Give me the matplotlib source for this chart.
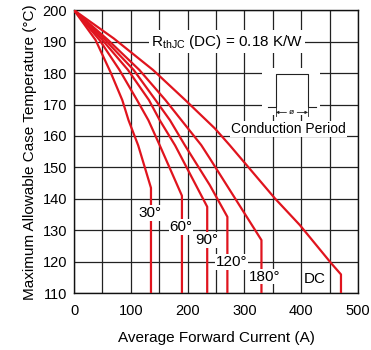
import matplotlib
matplotlib.use("Agg")
import matplotlib.pyplot as plt
from matplotlib.patches import Rectangle

plt.rcParams["font.family"] = ["Liberation Sans", "DejaVu Sans"]

# curves: average forward current (A) vs max case temperature (°C)
i_30 = [0, 38, 65, 85, 96, 113, 135.5, 135.5]
t_30 = [200, 190.5, 180, 171.4, 165, 157, 143.5, 110]
i_60 = [0, 45, 80, 111, 131, 151, 190, 190]
t_60 = [200, 190.5, 181, 171.4, 165, 157, 141, 110]
i_90 = [0, 50, 95, 132, 151, 178, 234.5, 234.5]
t_90 = [200, 190.5, 181, 171.4, 165, 157, 137.5, 110]
i_120 = [0, 55, 105, 143.6, 169, 195, 239, 270, 270]
t_120 = [200, 190.5, 181, 171.4, 165, 157.1, 144.4, 134.3, 110]
i_180 = [0, 60, 115, 161, 224, 239, 330, 330]
t_180 = [200, 190.5, 181, 171.4, 157.1, 152.9, 126.9, 110]
i_dc = [0, 70, 139, 196, 248, 274, 353.5, 397.5, 453, 470, 470]
t_dc = [200, 191, 181, 171.4, 162.4, 157.1, 140.2, 131.7, 119.5, 116, 110]

curves = [(i_30, t_30), (i_60, t_60), (i_90, t_90),
          (i_120, t_120), (i_180, t_180), (i_dc, t_dc)]
curve_labels = ["30°", "60°", "90°", "120°", "180°", "DC"]
label_x = [133.7, 188, 233, 277, 336, 424]
label_y = [135.5, 131, 127, 120, 115.3, 114.5]

red = "#e0141e"

fig = plt.figure(figsize=(3.71, 3.5), dpi=100)
ax = fig.add_axes([0.1995, 0.162, 0.7655, 0.809])

for xs, ys in curves:
    ax.plot(xs, ys, color=red, lw=1.6, zorder=3)

for txt, lx, ly in zip(curve_labels, label_x, label_y):
    ax.text(lx, ly, txt, ha="center", va="center", fontsize=11, zorder=5,
            bbox=dict(facecolor="white", edgecolor="none", pad=0.5))

ax.set_xlim(0, 500)
ax.set_ylim(110, 200)
ax.set_xticks(range(0, 501, 100))
ax.set_xticks(range(50, 500, 100), minor=True)
ax.set_yticks(range(110, 201, 10))
ax.tick_params(which="both", length=0, labelsize=10.5)
ax.tick_params(axis="x", pad=8)
ax.tick_params(axis="y", pad=5)
ax.grid(which="both", color="#222222", lw=0.9)
ax.set_axisbelow(True)
for s in ax.spines.values():
    s.set_color("#111111")
    s.set_linewidth(1)

ax.set_xlabel("Average Forward Current (A)", fontsize=11, labelpad=9)
ax.set_ylabel("Maximum Allowable Case Temperature (°C)", fontsize=11, labelpad=4)

# R_thJC annotation
ax.text(135, 190, r"R$_{\mathregular{thJC}}$ (DC) = 0.18 K/W", ha="left", va="center",
        fontsize=11, zorder=5,
        bbox=dict(facecolor="white", edgecolor="none", pad=1.5))

# conduction period inset
ax.add_patch(Rectangle((330.6, 166.6), 102, 15, facecolor="white",
                       edgecolor="none", zorder=2))
k = "#222222"
ax.plot([341.8, 355.3, 355.3, 412, 412, 425.6],
        [169.3, 169.3, 179.6, 179.6, 169.3, 169.3], color=k, lw=0.8, zorder=4)
ax.plot([355.3, 355.3], [169.3, 166.2], color=k, lw=0.6, zorder=4)
ax.plot([412, 412], [169.3, 166.2], color=k, lw=0.6, zorder=4)
ax.annotate("", xy=(355.3, 167.5), xytext=(374, 167.5), zorder=4,
            arrowprops=dict(arrowstyle="-|>", color=k, lw=0.6,
                            mutation_scale=4, shrinkA=0, shrinkB=0))
ax.annotate("", xy=(412, 167.5), xytext=(393, 167.5), zorder=4,
            arrowprops=dict(arrowstyle="-|>", color=k, lw=0.6,
                            mutation_scale=4, shrinkA=0, shrinkB=0))
ax.text(383.6, 167.6, "ø", ha="center", va="center", fontsize=6, zorder=4)
ax.text(377.5, 162.3, "Conduction Period", ha="center", va="center",
        fontsize=10, zorder=5,
        bbox=dict(facecolor="white", edgecolor="none", pad=0.8))

fig.savefig("out.png", dpi=100)
